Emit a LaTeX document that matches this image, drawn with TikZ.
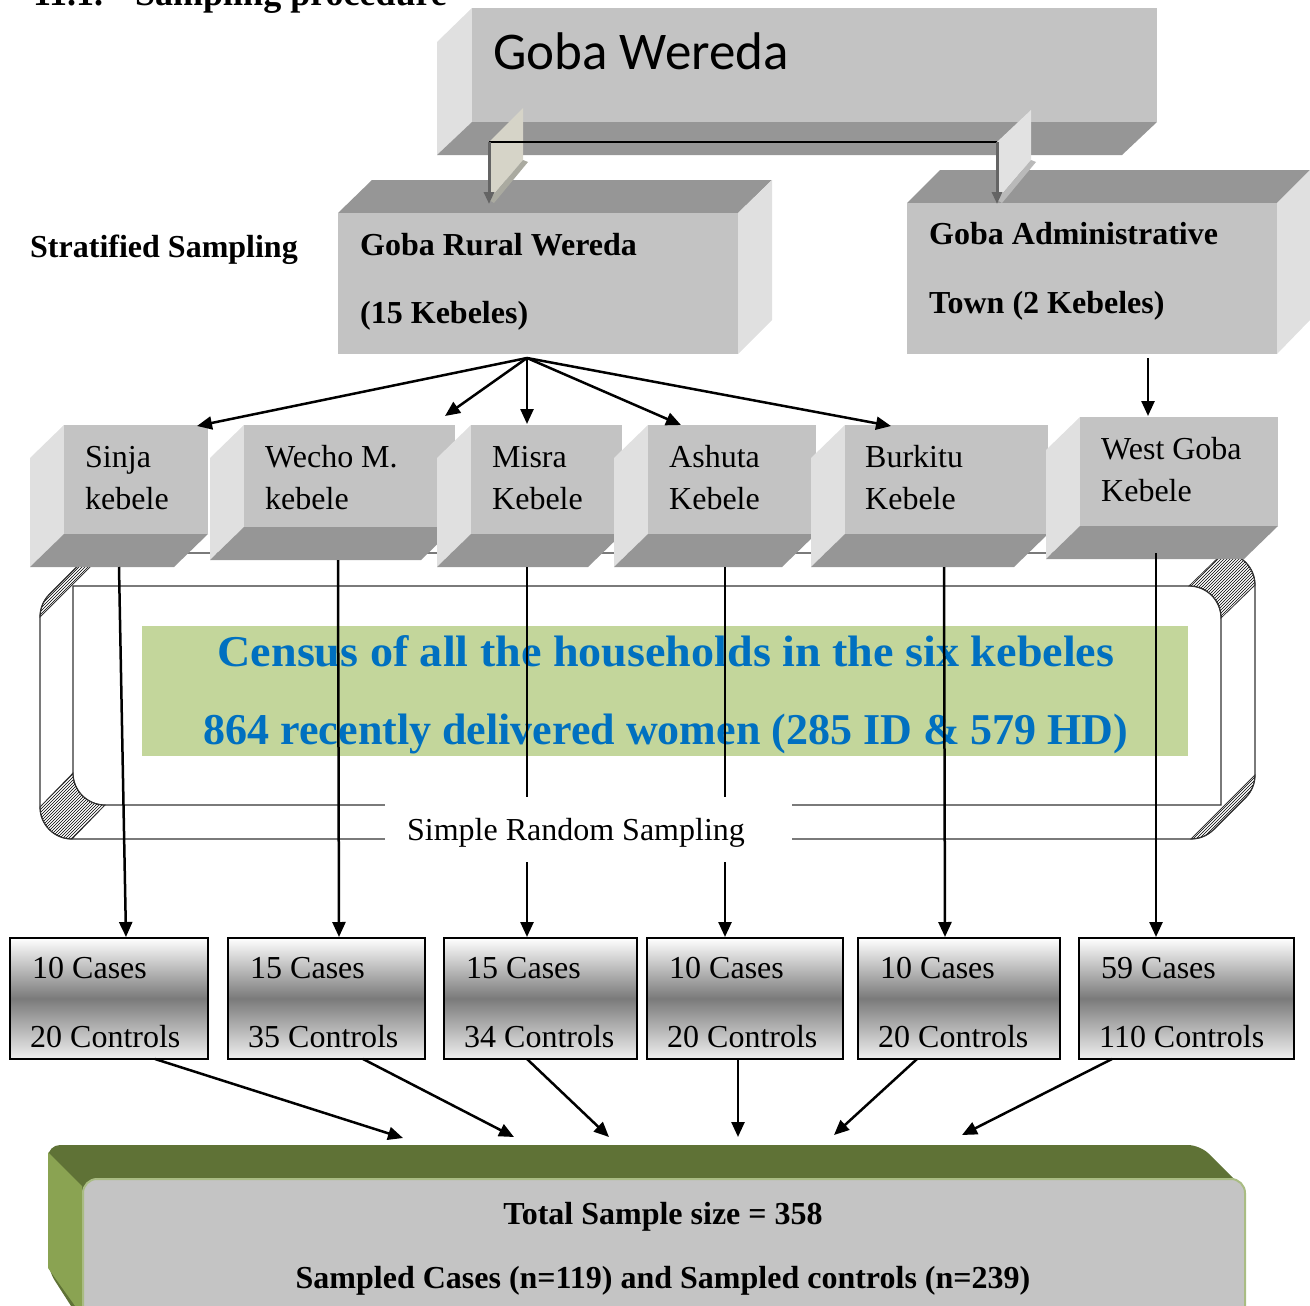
\documentclass[tikz,border=0pt]{standalone}
\usepackage{fontspec}
\setmainfont{Liberation Serif}
\newfontfamily\calib{Carlito}
\usetikzlibrary{patterns,arrows.meta}
\definecolor{front}{RGB}{195,195,195}
\definecolor{side}{RGB}{224,224,224}
\definecolor{dark}{RGB}{150,150,150}
\definecolor{censusgreen}{RGB}{195,214,155}
\definecolor{censusblue}{RGB}{0,112,192}
\definecolor{olive}{RGB}{95,114,54}
\definecolor{olivelight}{RGB}{138,163,82}
\definecolor{oliveedge}{RGB}{169,188,131}
\definecolor{totalgray}{RGB}{196,196,196}
\definecolor{midgray}{RGB}{122,122,122}
\definecolor{ribbonA}{RGB}{214,212,200}
\definecolor{ribbonAd}{RGB}{170,170,160}
\definecolor{ribbonB}{RGB}{226,226,226}
\definecolor{ribbonBd}{RGB}{185,185,185}
\definecolor{conngray}{RGB}{100,100,100}
\tikzset{
  face/.style={inner sep=0pt, outer sep=0pt, anchor=north west, fill=front},
  txt/.style={inner sep=0pt, anchor=base west, font=\fontsize{32}{38}\selectfont},
  btxt/.style={inner sep=0pt, anchor=base west, font=\bfseries\fontsize{32}{38}\selectfont},
  htxt/.style={inner sep=0pt, anchor=base west, font=\bfseries\fontsize{36}{40}\selectfont},
  ctxt/.style={inner sep=0pt, anchor=base, text=censusblue, font=\bfseries\fontsize{44}{50}\selectfont},
  arr/.style={line width=2.5pt, -{Triangle[length=15pt,width=13pt]}},
  garr/.style={draw=conngray, line width=3pt, -{Triangle[length=12pt,width=10pt]}},
  casebox/.style={draw=black, line width=1.5pt, inner sep=0pt, outer sep=0pt, anchor=north west,
     top color=white, bottom color=white!94!black, middle color=midgray},
  frameline/.style={draw=black!80, line width=1.2pt},
  hatch/.style={pattern=north east lines, draw=black!80, line width=0.8pt}
}
\newcommand\kebbox[5]{%
  \fill[side] (#2,#3) -- (#2-34,#3+33) -- (#2-34,#5+33) -- (#2,#5) -- cycle;
  \fill[dark] (#2,#5) -- (#4,#5) -- (#4-34,#5+33) -- (#2-34,#5+33) -- cycle;
  \pgfmathsetmacro\bw{#4-#2}\pgfmathsetmacro\bh{#5-#3}%
  \node[face, minimum width=\bw pt, minimum height=\bh pt] (#1) at (#2,#3) {};
}
\newcommand\casebx[5]{%
  \pgfmathsetmacro\bw{#3-#2}%
  \node[casebox, minimum width=\bw pt, minimum height=121pt] (#1) at (#2,938) {};
  \node[txt] (#1a) at (#2+22,978) {#4};
  \node[txt] (#1b) at (#2+20,1047) {#5};
}
\begin{document}
\begin{tikzpicture}[x=1pt,y=-1pt]
\useasboundingbox (0,0) rectangle (1310,1306);

% heading (cut at top, as in the reference)
\node[htxt] (head1) at (33,6) {11.1.};
\node[htxt] (head2) at (135,6) {Sampling procedure};

% Goba Wereda box
\fill[side] (472,8) -- (437,42) -- (437,155) -- (472,122) -- cycle;
\fill[dark] (472,122) -- (1157,122) -- (1122,155) -- (437,155) -- cycle;
\node[face, minimum width=685pt, minimum height=114pt] (wereda) at (472,8) {};
\node[inner sep=0pt, anchor=base west, font=\calib\fontsize{53}{60}\selectfont] (weredaT) at (493,70) {Goba Wereda};

% Goba Rural Wereda box
\fill[dark] (338,213) -- (738,213) -- (772,180) -- (372,180) -- cycle;
\fill[side] (738,213) -- (772,180) -- (772,320) -- (738,354) -- cycle;
\node[face, minimum width=400pt, minimum height=141pt] (rural) at (338,213) {};
\node[btxt] (ruralT1) at (360,255) {Goba Rural Wereda};
\node[btxt] (ruralT2) at (360,323) {(15 Kebeles)};

% Goba Administrative Town box
\fill[dark] (907,203) -- (1277,203) -- (1310,170) -- (940,170) -- cycle;
\fill[side] (1277,203) -- (1310,170) -- (1310,320) -- (1277,354) -- cycle;
\node[face, minimum width=370pt, minimum height=151pt] (admin) at (907,203) {};
\node[btxt] (adminT1) at (929,244) {Goba Administrative};
\node[btxt] (adminT2) at (929,313) {Town (2 Kebeles)};

\node[btxt] (strat) at (30,257) {Stratified Sampling};

% connector from Goba Wereda
\coordinate (wL) at (489,142);
\coordinate (wR) at (997,142);
\coordinate (ruralIn) at (489,204);
\coordinate (adminIn) at (997,204);
\fill[ribbonA] (489,142) -- (523,108) -- (523,160) -- (489,200) -- cycle;
\fill[ribbonAd] (489,200) -- (523,160) -- (528,162) -- (494,203) -- cycle;
\fill[ribbonB] (997,142) -- (1031,110) -- (1031,160) -- (997,200) -- cycle;
\fill[ribbonBd] (997,200) -- (1031,160) -- (1036,162) -- (1002,203) -- cycle;
\draw[line width=2pt] (wL) -- (wR);
\draw[garr] (wL) -- (ruralIn);
\draw[garr] (wR) -- (adminIn);

% 3D frame
\draw[frameline] (40,807) -- (40,617) arc[start angle=180,end angle=225,radius=32]
  -- (81.4,562.4) arc[start angle=225,end angle=270,radius=32]
  -- (1223,553) arc[start angle=270,end angle=360,radius=32]
  -- (1255,775) arc[start angle=0,end angle=45,radius=32]
  -- (1213.6,829.6) arc[start angle=45,end angle=90,radius=32]
  -- (72,839) arc[start angle=90,end angle=180,radius=32] -- cycle;
\draw[frameline] (73,586) -- (1189,586) arc[start angle=270,end angle=360,radius=32]
  -- (1221,805) -- (105,805) arc[start angle=90,end angle=180,radius=32] -- cycle;
\path[hatch] (40,617) arc[start angle=180,end angle=225,radius=32]
  -- (81.4,562.4) arc[start angle=225,end angle=270,radius=32] -- cycle;
\path[hatch] (1255,775) arc[start angle=0,end angle=45,radius=32]
  -- (1213.6,829.6) arc[start angle=45,end angle=90,radius=32] -- cycle;
\path[hatch] (1189,586) arc[start angle=270,end angle=360,radius=32]
  -- (1255,585) arc[start angle=0,end angle=-90,radius=32] -- cycle;
\path[hatch] (73,773) arc[start angle=180,end angle=90,radius=32]
  -- (72,839) arc[start angle=90,end angle=180,radius=32] -- cycle;

% census box
\node[fill=censusgreen, inner sep=0pt, anchor=north west, minimum width=1046pt, minimum height=130pt] (census) at (142,626) {};
\node[ctxt] (census1) at (666,666) {\scalebox{1.048}[1]{Census of all the households in the six kebeles}};
\node[ctxt] (census2) at (666,744) {864 recently delivered women (285 ID \& 579 HD)};

% kebele boxes
\kebbox{sinja}{64}{425}{208}{534}
\kebbox{wecho}{244}{425}{455}{527}
\kebbox{misra}{471}{425}{622}{534}
\kebbox{ashuta}{648}{425}{816}{534}
\kebbox{burkitu}{845}{425}{1048}{534}
\kebbox{wgoba}{1080}{417}{1278}{526}
\node[txt] (sinjaT1) at (85,467) {Sinja};
\node[txt] (sinjaT2) at (85,509) {kebele};
\node[txt] (wechoT1) at (265,467) {Wecho M.};
\node[txt] (wechoT2) at (265,509) {kebele};
\node[txt] (misraT1) at (492,467) {Misra};
\node[txt] (misraT2) at (492,509) {Kebele};
\node[txt] (ashutaT1) at (669,467) {Ashuta};
\node[txt] (ashutaT2) at (669,509) {Kebele};
\node[txt] (burkT1) at (865,467) {Burkitu};
\node[txt] (burkT2) at (865,509) {Kebele};
\node[txt] (wgT1) at (1101,459) {West Goba};
\node[txt] (wgT2) at (1101,501) {Kebele};

% arrows from rural / admin to kebeles
\coordinate (ruralOut) at (527,358);
\coordinate (adminOut) at (1148,358);
\coordinate (sinjaIn) at (197,426);
\coordinate (wechoIn) at (445,416);
\coordinate (misraIn) at (527,424);
\coordinate (ashutaIn) at (681,425);
\coordinate (burkIn) at (891,426);
\coordinate (wgIn) at (1148,416);
\foreach \t in {sinjaIn,wechoIn,misraIn,ashutaIn,burkIn}
  \draw[arr] (ruralOut) -- (\t);
\draw[arr] (adminOut) -- (wgIn);

% case boxes
\casebx{c1}{10}{208}{10 Cases}{20 Controls}
\casebx{c2}{228}{425}{15 Cases}{35 Controls}
\casebx{c3}{444}{637}{15 Cases}{34 Controls}
\casebx{c4}{647}{843}{10 Cases}{20 Controls}
\casebx{c5}{858}{1060}{10 Cases}{20 Controls}
\casebx{c6}{1079}{1294}{59 Cases}{110 Controls}

% vertical lines kebele -> cases
\coordinate (sinjaOut) at (119,567);
\coordinate (wechoOut) at (338,560);
\coordinate (misraOut) at (527,567);
\coordinate (ashutaOut) at (725,567);
\coordinate (burkOut) at (944,567);
\coordinate (wgOut) at (1156,553);
\draw[arr] (sinjaOut) -- (126,937);
\draw[arr] (wechoOut) -- (339,937);
\draw[arr] (misraOut) -- (527,937);
\draw[arr] (ashutaOut) -- (725,937);
\draw[arr] (burkOut) -- (945,937);
\draw[arr] (wgOut) -- (1156,937);

% simple random sampling label
\node[fill=white, inner sep=0pt, minimum width=407pt, minimum height=65pt] (srsbox) at (588.5,829.5) {};
\node[txt, anchor=base] (srs) at (576,840) {Simple Random Sampling};

% total box
\fill[olive, rounded corners=12pt] (48,1270) -- (48,1145) -- (1200,1145) -- (1244,1189) -- (1244,1320) -- (80,1320) -- cycle;
\fill[olivelight] (48,1152) -- (82,1186) -- (82,1310) -- (78,1310) -- (48,1268) -- cycle;
\node[fill=totalgray, draw=oliveedge, line width=2pt, rounded corners=14pt, inner sep=0pt, anchor=north west,
  minimum width=1162pt, minimum height=170pt] (total) at (82,1178) {};
\node[btxt, anchor=base] (totalT1) at (663,1224) {Total Sample size = 358};
\node[btxt, anchor=base] (totalT2) at (663,1288) {Sampled Cases (n=119) and Sampled controls (n=239)};

% arrows cases -> total
\draw[arr] (c1.south -| 155,0) -- (403,1138);
\draw[arr] (c2.south -| 363,0) -- (514,1137);
\draw[arr] (c3.south -| 527,0) -- (609,1137);
\draw[arr] (c4.south -| 738,0) -- (738,1137);
\draw[arr] (c5.south -| 917,0) -- (834,1135);
\draw[arr] (c6.south -| 1112,0) -- (962,1135);
\end{tikzpicture}
\end{document}
